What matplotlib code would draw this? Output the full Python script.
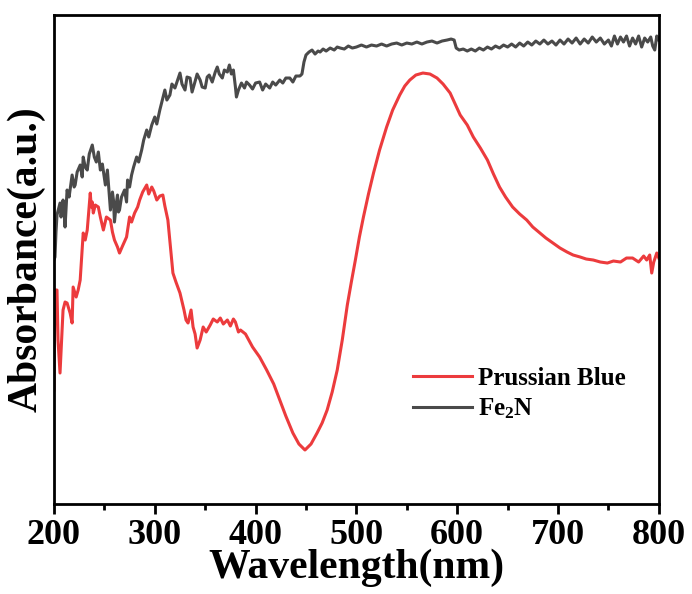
import matplotlib
matplotlib.use('Agg')
import matplotlib.pyplot as plt
from matplotlib.ticker import MultipleLocator

plt.rcParams.update({
    'font.family': 'serif', 'font.serif': ['Liberation Serif', 'DejaVu Serif'],
    'font.weight': 'bold',
    'mathtext.fontset': 'custom', 'mathtext.rm': 'Liberation Serif:bold',
    'mathtext.bf': 'Liberation Serif:bold', 'mathtext.default': 'regular',
})

# ── data (absorbance in arbitrary units) ──
pb_wl = [200, 201, 203, 204, 206, 209, 211, 213, 216, 218, 219, 222, 224, 226, 229, 231,
         233, 236, 237, 238, 239, 241, 244, 246, 249, 252, 256, 258, 260, 263, 265, 268,
         272, 275, 277, 280, 283, 285, 288, 292, 294, 297, 299, 302, 305, 308, 310, 313,
         316, 318, 321, 325, 329, 331, 333, 336, 338, 340, 342, 345, 348, 351, 355, 358,
         362, 365, 368, 372, 375, 378, 380, 383, 385, 390, 397, 404, 411, 418, 424, 430,
         437, 443, 449, 455, 461, 466, 471, 476, 481, 486, 491, 495, 499, 503, 507, 512,
         517, 523, 530, 536, 543, 548, 553, 559, 566, 573, 580, 586, 593, 598, 603, 610,
         616, 623, 630, 636, 642, 648, 655, 662, 669, 675, 682, 688, 695, 702, 709, 715,
         722, 728, 735, 742, 749, 755, 762, 768, 774, 780, 785, 788, 791, 793, 795, 798,
         800]
pb_abs = [112, 212, 212, 162, 129, 192, 200, 199, 189, 179, 215, 205, 212, 222, 269, 262,
          272, 309, 295, 300, 289, 297, 295, 285, 272, 285, 282, 270, 262, 255, 249, 256,
          265, 285, 280, 289, 295, 302, 310, 317, 308, 315, 311, 302, 306, 307, 296, 282,
          250, 229, 220, 209, 192, 182, 179, 192, 175, 168, 154, 162, 175, 170, 177, 183,
          180, 184, 178, 182, 176, 183, 180, 170, 172, 168, 155, 145, 132, 118, 102, 86,
          69, 58, 52, 58, 69, 79, 92, 110, 132, 162, 197, 220, 242, 265, 285, 308,
          329, 352, 375, 392, 407, 416, 422, 427, 429, 428, 424, 418, 409, 398, 387, 377,
          365, 354, 342, 328, 315, 305, 295, 288, 282, 275, 269, 264, 259, 254, 250, 247,
          245, 243, 242, 240, 239, 241, 240, 244, 244, 240, 246, 242, 247, 229, 240, 249,
          244]

fe_wl = [200, 201, 202, 203, 205, 206, 207, 209, 210, 211, 213, 215, 218, 220, 221, 223,
         226, 228, 229, 231, 233, 235, 238, 240, 242, 244, 246, 248, 251, 253, 255, 256,
         258, 259, 260, 262, 263, 264, 265, 267, 270, 272, 273, 275, 277, 279, 282, 284,
         287, 289, 292, 294, 297, 300, 302, 305, 307, 310, 312, 315, 317, 320, 322, 325,
         327, 330, 332, 335, 337, 339, 342, 345, 347, 350, 352, 354, 357, 360, 362, 364,
         367, 369, 372, 374, 376, 378, 380, 381, 383, 386, 389, 391, 394, 397, 400, 404,
         407, 410, 414, 417, 420, 424, 427, 430, 434, 437, 440, 444, 446, 448, 450, 453,
         456, 459, 462, 464, 467, 470, 474, 478, 481, 484, 488, 492, 496, 500, 505, 510,
         515, 520, 525, 530, 535, 540, 545, 550, 555, 560, 565, 570, 575, 580, 585, 590,
         594, 597, 599, 602, 606, 610, 614, 618, 622, 626, 630, 634, 638, 642, 646, 650,
         654, 658, 662, 666, 670, 674, 678, 682, 686, 690, 694, 698, 702, 706, 710, 714,
         718, 722, 726, 730, 734, 738, 742, 746, 750, 753, 756, 759, 762, 765, 768, 771,
         774, 777, 780, 783, 786, 789, 792, 794, 796, 798, 800]
fe_abs = [242, 245, 270, 287, 295, 299, 285, 302, 290, 275, 312, 305, 327, 315, 317, 330,
          337, 325, 345, 335, 332, 348, 357, 345, 340, 350, 332, 338, 317, 332, 305, 292,
          310, 302, 280, 300, 307, 290, 292, 305, 312, 300, 322, 315, 327, 335, 345, 340,
          352, 362, 372, 365, 377, 385, 378, 392, 400, 412, 402, 407, 418, 414, 420, 429,
          418, 412, 425, 424, 410, 417, 428, 422, 415, 414, 425, 427, 420, 430, 435, 428,
          424, 432, 430, 437, 428, 432, 415, 405, 412, 419, 414, 420, 417, 413, 419, 420,
          412, 418, 414, 420, 417, 422, 419, 424, 424, 420, 426, 426, 428, 440, 447, 450,
          452, 448, 451, 450, 453, 451, 454, 452, 455, 454, 453, 456, 454, 455, 457, 455,
          457, 456, 458, 456, 458, 459, 457, 459, 458, 460, 458, 460, 461, 459, 461, 462,
          463, 462, 454, 452, 453, 451, 453, 451, 454, 452, 455, 453, 456, 454, 457, 455,
          458, 455, 459, 456, 460, 457, 461, 458, 462, 458, 461, 457, 462, 458, 463, 459,
          464, 458, 463, 459, 465, 460, 464, 458, 462, 456, 466, 458, 465, 460, 466, 456,
          464, 458, 466, 455, 464, 460, 465, 456, 452, 466, 462]

fig = plt.figure(figsize=(6.92, 5.94), dpi=100)
ax = fig.add_axes([0.078, 0.1515, 0.874, 0.8232])

ax.plot(pb_wl, pb_abs, color='#EC3B3D', lw=2.2, label='Prussian Blue')
ax.plot(fe_wl, fe_abs, color='#4A4A4A', lw=2.2, label='Fe$_2$N')

ax.set_xlim(200, 800)
ax.set_ylim(-2, 487)
ax.xaxis.set_major_locator(MultipleLocator(100))
ax.xaxis.set_minor_locator(MultipleLocator(50))
ax.set_yticks([])
ax.tick_params(axis='x', which='major', direction='out', length=7, width=2, labelsize=26, pad=4)
ax.tick_params(axis='x', which='minor', direction='out', length=4, width=2)
for sp in ax.spines.values():
    sp.set_linewidth(2)

ax.set_xlabel('Wavelength(nm)', fontsize=30, fontweight='bold', labelpad=-3)
ax.set_ylabel('Absorbance(a.u.)', fontsize=30, fontweight='bold', labelpad=6)

ax.legend(loc='upper left', bbox_to_anchor=(0.593, 0.28), frameon=False,
          fontsize=18, handlelength=2.36, handletextpad=0.25, labelspacing=0.25,
          borderpad=0, borderaxespad=0)

fig.savefig('out.png', dpi=100, facecolor='white')
